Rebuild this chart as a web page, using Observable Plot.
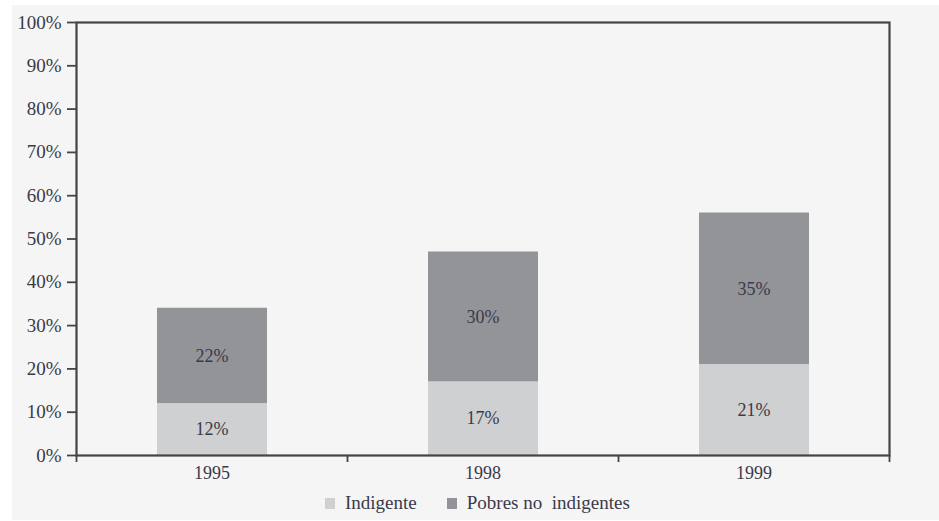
<!DOCTYPE html>
<html>
<head>
<meta charset="utf-8">
<script src="https://cdn.jsdelivr.net/npm/d3@7"></script>
<script src="https://cdn.jsdelivr.net/npm/@observablehq/plot@0.6"></script>
<style>
  html, body { margin: 0; padding: 0; background: #ffffff; }
  #wrap { position: absolute; left: 12px; top: 5px; width: 927px; height: 515px; background: #f5f5f5; overflow: hidden; }
  #legend { position: absolute; top: 487px; left: 313px; display: flex; align-items: center; font-family: 'Liberation Serif', serif; font-size: 19px; color: #3a3a48; white-space: pre; }
  .sw { display: inline-block; width: 10px; height: 11px; margin-right: 10px; }
  svg text { font-family: 'Liberation Serif', serif; }
</style>
</head>
<body>
<div id="wrap"><div id="chart"></div><div id="legend"></div></div>
<script>
const years = ["1995", "1998", "1999"];
const groups = ["Indigente", "Pobres no  indigentes"];
const indigente = [12, 17, 21];
const pobresNoIndigentes = [22, 30, 35];
const yTicks = [0, 10, 20, 30, 40, 50, 60, 70, 80, 90, 100];
const colors = ["#cfd0d2", "#939498"];

const data = [];
years.forEach((yr, i) => data.push({year: yr, group: groups[0], value: indigente[i]}));
years.forEach((yr, i) => data.push({year: yr, group: groups[1], value: pobresNoIndigentes[i]}));

const W = 927, H = 485, ML = 64, MR = 50, MT = 17, MB = 35;
const bw = (W - ML - MR) / years.length;
const axisColor = "#444444";
const textColor = "#3a3a48";

const chart = Plot.plot({
  width: W,
  height: H,
  marginLeft: ML,
  marginRight: MR,
  marginTop: MT,
  marginBottom: MB,
  style: {background: "transparent", color: textColor},
  x: {domain: years, padding: 0, label: null},
  y: {domain: [0, 100], label: null},
  color: {domain: groups, range: colors},
  marks: [
    Plot.barY(data, {x: "year", y: "value", fill: "group", insetLeft: 81, insetRight: 80}),
    Plot.text(data, Plot.stackY({x: "year", y: "value", text: d => d.value + "%", fontSize: 18, fill: textColor})),
    Plot.frame({stroke: axisColor, strokeWidth: 2.2}),
    Plot.axisY({ticks: yTicks, tickFormat: d => d + "%", tickSize: 9, tickPadding: 6, stroke: axisColor, strokeWidth: 1.8, fontSize: 19, fill: textColor, label: null}),
    Plot.axisX({ticks: years, tickSize: 7, tickFormat: () => "", stroke: axisColor, strokeWidth: 1.8, dx: -bw / 2, label: null}),
    Plot.axisX({ticks: [years[years.length - 1]], tickSize: 7, tickFormat: () => "", stroke: axisColor, strokeWidth: 1.8, dx: bw / 2, label: null}),
    Plot.axisX({ticks: years, tickSize: 0, tickPadding: 11, fontSize: 18, fill: textColor, label: null})
  ]
});
document.getElementById("chart").appendChild(chart);

const legend = document.getElementById("legend");
groups.forEach((g, i) => {
  const item = document.createElement("span");
  item.style.display = "inline-flex";
  item.style.alignItems = "center";
  item.style.marginRight = i === 0 ? "30px" : "0";
  const sw = document.createElement("span");
  sw.className = "sw";
  sw.style.background = colors[i];
  const t = document.createElement("span");
  t.textContent = g;
  item.appendChild(sw);
  item.appendChild(t);
  legend.appendChild(item);
});
</script>
</body>
</html>
